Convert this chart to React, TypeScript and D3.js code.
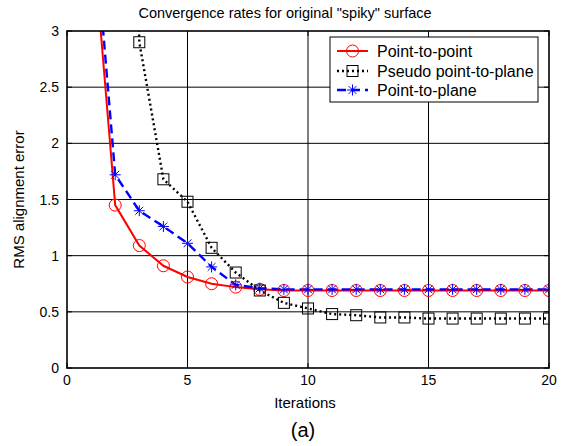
import React from "react";
import * as d3 from "d3";

const iterations = [1, 2, 3, 4, 5, 6, 7, 8, 9, 10, 11, 12, 13, 14, 15, 16, 17, 18, 19, 20];
const pointToPoint = [4.03, 1.45, 1.09, 0.91, 0.81, 0.75, 0.72, 0.7, 0.69, 0.69, 0.69, 0.69, 0.69, 0.69, 0.69, 0.69, 0.69, 0.69, 0.69, 0.69];
const pseudoPointToPlane = [16.0, 12.9, 2.9, 1.68, 1.48, 1.07, 0.85, 0.69, 0.58, 0.53, 0.48, 0.47, 0.45, 0.45, 0.44, 0.44, 0.44, 0.44, 0.44, 0.44];
const pointToPlane = [4.28, 1.72, 1.4, 1.26, 1.11, 0.9, 0.74, 0.71, 0.7, 0.7, 0.7, 0.7, 0.7, 0.7, 0.7, 0.7, 0.7, 0.7, 0.7, 0.7];
const xTicks = [0, 5, 10, 15, 20];
const yTicks = [0, 0.5, 1, 1.5, 2, 2.5, 3];
const yTickLabels = ["0", "0.5", "1", "1.5", "2", "2.5", "3"];
const seriesNames = ["Point-to-point", "Pseudo point-to-plane", "Point-to-plane"];

const W = 562, H = 446;
const L = 67, R = 549, T = 31, B = 368;
const font = "'Liberation Sans', Arial, Helvetica, sans-serif";

export default function App() {
  const x = d3.scaleLinear().domain([0, 20]).range([L, R]);
  const y = d3.scaleLinear().domain([0, 3]).range([B, T]);
  const line = d3.line<number>().x((_, i) => x(iterations[i])).y((d) => y(d));

  const circleMark = (cx: number, cy: number, k: string) => (
    <circle key={k} cx={cx} cy={cy} r={6} fill="none" stroke="#ff0000" strokeWidth={1} />
  );
  const squareMark = (cx: number, cy: number, k: string) => (
    <rect key={k} x={cx - 5.5} y={cy - 5.5} width={11} height={11} fill="none" stroke="#000" strokeWidth={1} />
  );
  const starMark = (cx: number, cy: number, k: string) => {
    const s = 5.5;
    const d = 3.9;
    return (
      <g key={k} stroke="#0000ff" strokeWidth={1}>
        <line x1={cx - s} y1={cy} x2={cx + s} y2={cy} />
        <line x1={cx} y1={cy - s} x2={cx} y2={cy + s} />
        <line x1={cx - d} y1={cy - d} x2={cx + d} y2={cy + d} />
        <line x1={cx - d} y1={cy + d} x2={cx + d} y2={cy - d} />
      </g>
    );
  };

  const legX = 330, legY = 37, legW = 208, legH = 65;
  const rowY = [51, 71, 90];

  return (
    <svg width={W} height={H} style={{ position: "absolute", left: 0, top: 0, background: "#fff" }}>
      <defs>
        <clipPath id="plotclip">
          <rect x={L} y={T} width={R - L} height={B - T} />
        </clipPath>
      </defs>
      <rect x={0} y={0} width={W} height={H} fill="#fff" />
      {/* grid */}
      {xTicks.slice(1, -1).map((t) => (
        <line key={"gx" + t} x1={x(t)} x2={x(t)} y1={T} y2={B} stroke="#000" strokeWidth={1} />
      ))}
      {yTicks.slice(1, -1).map((t) => (
        <line key={"gy" + t} x1={L} x2={R} y1={y(t)} y2={y(t)} stroke="#000" strokeWidth={1} />
      ))}
      {/* series */}
      <g clipPath="url(#plotclip)">
        <path d={line(pointToPoint) || ""} fill="none" stroke="#ff0000" strokeWidth={2} />
        <path d={line(pseudoPointToPlane) || ""} fill="none" stroke="#000" strokeWidth={2.4} strokeDasharray="2 3" />
        <path d={line(pointToPlane) || ""} fill="none" stroke="#0000ff" strokeWidth={2.4} strokeDasharray="9 5" />
        {pointToPoint.map((v, i) => circleMark(x(iterations[i]), y(v), "c" + i))}
        {pseudoPointToPlane.map((v, i) => squareMark(x(iterations[i]), y(v), "s" + i))}
        {pointToPlane.map((v, i) => starMark(x(iterations[i]), y(v), "p" + i))}
      </g>
      {/* axes box */}
      <rect x={L} y={T} width={R - L} height={B - T} fill="none" stroke="#000" strokeWidth={1.6} />
      {/* ticks */}
      {xTicks.map((t) => (
        <g key={"xt" + t}>
          <line x1={x(t)} x2={x(t)} y1={B} y2={B - 5} stroke="#000" />
          <line x1={x(t)} x2={x(t)} y1={T} y2={T + 5} stroke="#000" />
          <text x={x(t)} y={B + 17} textAnchor="middle" fontFamily={font} fontSize={14} fill="#000">{t}</text>
        </g>
      ))}
      {yTicks.map((t, i) => (
        <g key={"yt" + t}>
          <line x1={L} x2={L + 5} y1={y(t)} y2={y(t)} stroke="#000" />
          <line x1={R} x2={R - 5} y1={y(t)} y2={y(t)} stroke="#000" />
          <text x={L - 8} y={y(t) + 5} textAnchor="end" fontFamily={font} fontSize={14} fill="#000">{yTickLabels[i]}</text>
        </g>
      ))}
      {/* labels */}
      <text x={(L + R) / 2 - 23} y={18} textAnchor="middle" fontFamily={font} fontSize={14.5} fill="#000">Convergence rates for original "spiky" surface</text>
      <text x={(L + R) / 2 - 3} y={408} textAnchor="middle" fontFamily={font} fontSize={15} fill="#000">Iterations</text>
      <text x={(L + R) / 2 - 5} y={437} textAnchor="middle" fontFamily={font} fontSize={20} fill="#000">(a)</text>
      <text transform={`translate(24,${(T + B) / 2}) rotate(-90)`} textAnchor="middle" fontFamily={font} fontSize={15} fill="#000">RMS alignment error</text>
      {/* legend */}
      <rect x={legX} y={legY} width={legW} height={legH} fill="#fff" stroke="#000" strokeWidth={1} />
      <line x1={337} x2={368} y1={rowY[0]} y2={rowY[0]} stroke="#ff0000" strokeWidth={2} />
      {circleMark(352.5, rowY[0], "lc")}
      <line x1={337} x2={368} y1={rowY[1]} y2={rowY[1]} stroke="#000" strokeWidth={2.4} strokeDasharray="2 3" />
      {squareMark(352.5, rowY[1], "ls")}
      <line x1={337} x2={368} y1={rowY[2]} y2={rowY[2]} stroke="#0000ff" strokeWidth={2.4} strokeDasharray="9 5" />
      {starMark(352.5, rowY[2], "lp")}
      {seriesNames.map((n, i) => (
        <text key={n} x={377} y={rowY[i] + 5.5} fontFamily={font} fontSize={16} fill="#000">{n}</text>
      ))}
    </svg>
  );
}
